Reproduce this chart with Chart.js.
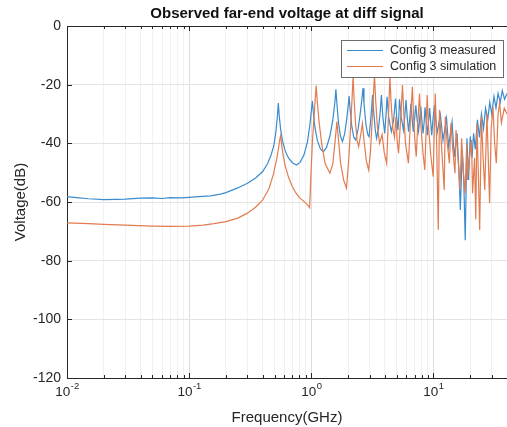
<!DOCTYPE html>
<html>
<head>
<meta charset="utf-8">
<script src="https://cdn.jsdelivr.net/npm/chart.js@4.4.1/dist/chart.umd.min.js"></script>
<style>
  html, body { margin: 0; padding: 0; background: #fff; }
</style>
</head>
<body>
<canvas id="farend" width="507" height="427"></canvas>
<script>
// Config 3 measured (GHz, dB)
const measFreq = [0.01, 0.012, 0.015, 0.02, 0.025, 0.03, 0.04, 0.05, 0.06, 0.07, 0.085, 0.1, 0.12, 0.15, 0.18, 0.2,
  0.25, 0.3, 0.35, 0.4, 0.44, 0.47, 0.495, 0.515, 0.528, 0.537, 0.546, 0.56, 0.58, 0.61, 0.65, 0.7, 0.755, 0.81, 0.87,
  0.93, 0.975, 1.0, 1.02, 1.04, 1.07, 1.12, 1.19, 1.257, 1.33, 1.42, 1.5, 1.56, 1.59, 1.62, 1.67, 1.73, 1.8, 1.88, 1.96,
  2.0, 2.04, 2.08, 2.15, 2.23, 2.31, 2.42, 2.53, 2.6, 2.65, 2.7, 2.8, 2.9, 2.97, 3.05, 3.12, 3.17, 3.24, 3.33, 3.42,
  3.55, 3.66, 3.75, 3.85, 3.99, 4.08, 4.17, 4.3, 4.52, 4.72, 4.89, 5.0, 5.12, 5.2, 5.27, 5.45, 5.68, 5.82, 5.96, 6.1,
  6.26, 6.4, 6.54, 6.7, 6.84, 7.0, 7.17, 7.35, 7.55, 7.7, 7.87, 8.05, 8.22, 8.4, 8.53, 8.75, 8.93, 9.1, 9.31, 9.5,
  9.68, 9.9, 10.2, 10.7, 11.4, 11.97, 12.8, 13.3, 14.2, 14.8, 15.6, 16.1, 16.6, 17.2, 17.7, 18.2, 18.8, 19.4, 20.0,
  20.7, 21.3, 22.0, 22.9, 23.8, 24.7, 25.7, 26.7, 27.8, 28.9, 30.0, 31.3, 32.5, 33.8, 35.2, 36.6, 38.2, 40];
const measDb = [-58.2, -58.5, -58.9, -59.2, -59.1, -59.0, -58.7, -58.6, -58.8, -58.5, -58.6, -58.4, -58.2, -57.9, -57.3, -56.8,
  -55.2, -53.6, -51.8, -49.6, -46.8, -43.8, -40.5, -35.5, -30.5, -26.3, -30.5, -35, -39, -42.5, -45, -46.6, -47.4, -46.5, -44,
  -39.5, -33.5, -29, -25.6, -29.5, -34.5, -39, -42, -42.8, -41.5, -37.5, -32, -26, -21.6, -26.5, -33, -37.5, -39.4, -36.5, -31,
  -27.5, -23.9, -28.5, -34.5, -38, -38.9, -35, -29, -24.5, -21.2, -26.5, -33.5, -37, -37.7, -33, -28, -23.5, -29, -35, -38.3,
  -35, -29.5, -23.5, -31, -36.6, -31, -24.1, -31, -36, -32, -24.7, -31, -35.5, -31, -25, -31, -35.5, -31, -25.2, -31,
  -36, -31.5, -26.4, -32, -36, -32, -27, -32, -35.8, -32, -27.5, -32.5, -36.6, -32.5, -27.7, -33, -37.2, -33, -28, -33,
  -37.2, -32, -27, -36.6, -30.3, -38.9, -31.5, -41.1, -32.6, -44.6, -36.6, -48, -62.7, -42.3, -52.5, -73, -38.3, -52.5, -37.7,
  -45, -36.6, -42, -32, -38, -30, -35, -28, -32, -26, -30, -24, -28, -23, -26, -22, -25, -23];

// Config 3 simulation (GHz, dB)
const simFreq = [0.01, 0.015, 0.02, 0.03, 0.05, 0.07, 0.1, 0.13, 0.16, 0.2, 0.25, 0.3, 0.35, 0.4, 0.45, 0.49, 0.52, 0.54,
  0.553, 0.561, 0.57, 0.585, 0.61, 0.65, 0.7, 0.75, 0.8, 0.87, 0.93, 0.969, 0.99, 1.02, 1.06, 1.096, 1.12, 1.16, 1.22,
  1.3, 1.42, 1.5, 1.56, 1.62, 1.67, 1.74, 1.84, 1.94, 2.03, 2.1, 2.16, 2.2, 2.24, 2.3, 2.37, 2.44, 2.54, 2.62, 2.7, 2.82,
  2.95, 3.05, 3.15, 3.23, 3.29, 3.36, 3.47, 3.62, 3.8, 3.95, 4.14, 4.27, 4.4, 4.5, 4.65, 4.8, 4.92, 5.05, 5.18, 5.38,
  5.58, 5.72, 5.9, 6.24, 6.45, 6.72, 6.88, 7.05, 7.23, 7.45, 7.69, 7.9, 8.2, 8.49, 8.7, 8.88, 9.1, 9.5, 9.95, 10.15,
  10.35, 10.6, 10.95, 11.2, 11.6, 12.25, 12.5, 12.9, 13.5, 13.9, 14.4, 15.0, 15.3, 15.9, 16.5, 17.0, 17.6, 18.2, 18.7,
  19.0, 19.6, 20.5, 20.9, 21.7, 22.2, 22.7, 23.3, 23.9, 24.7, 25.5, 26.3, 27.4, 28.1, 28.8, 29.7, 30.7, 31.7, 32.7,
  33.8, 34.8, 36, 38, 40];
const simDb = [-67.1, -67.4, -67.6, -67.9, -68.2, -68.3, -68.2, -67.9, -67.4, -66.7, -65.5, -63.8, -61.8, -59.3, -55.5, -50.5, -45.5, -41.5,
  -38.5, -37.5, -40, -43.5, -47.5, -51.5, -54.8, -57, -58.5, -59.8, -61, -62, -52, -40, -29, -20.3, -26, -33, -40.5,
  -47, -50.2, -47, -40, -32.6, -39, -47, -52.5, -55.3, -45, -34, -24, -17, -25, -33, -39, -41.1, -37, -33.2, -39, -46,
  -49.1, -43, -32, -23, -16.5, -25, -34, -40, -37, -43, -46.8, -32, -17.3, -26, -35, -38, -31, -39, -43.4, -32,
  -20.1, -30, -40, -46.8, -34, -20.7, -31, -39, -44.5, -33, -23, -34, -43, -49.1, -36, -23.5, -34, -44, -51.4, -36,
  -23, -38, -69.5, -28.6, -40, -55.9, -30.9, -39, -46.8, -33.2, -42, -50.2, -35.5, -45, -55.9, -38.3, -50, -57, -40.1,
  -52.5, -46, -38.9, -57, -45, -66, -33.2, -50, -69.5, -30.9, -45, -55.9, -29.8, -45, -60.4, -35, -27.5, -40, -46.8,
  -30, -26.4, -33, -28, -30];

const seriesNames = ['Config 3 measured', 'Config 3 simulation'];
const seriesColors = ['#3a8cce', '#e37b50'];

// log axis: decades carry the labels, 2..9 are minor
const xDecades = [0.01, 0.1, 1, 10];
const xDecadeExp = ['-2', '-1', '0', '1'];
const xMinorSteps = [2, 3, 4, 5, 6, 7, 8, 9];

const axisColor = '#262626';
const FONT = "'Liberation Sans', Arial, Helvetica, sans-serif";

const toPoints = (xs, ys) => xs.map((f, i) => ({x: f, y: ys[i]}));
const isDecade = v => xDecades.some(d => Math.abs(v / d - 1) < 1e-6);

const gridValues = [];
xDecades.forEach(d => {
  gridValues.push(d);
  xMinorSteps.forEach(m => gridValues.push(+(d * m).toPrecision(3)));
});

// box top, inward ticks, 10^n labels and the legend (MATLAB look)
const frame = {
  id: 'frame',
  afterDraw(chart) {
    const {ctx, chartArea: a, scales: {x, y}} = chart;
    ctx.save();
    ctx.strokeStyle = axisColor;
    ctx.lineWidth = 1;
    ctx.beginPath();
    ctx.moveTo(a.left, a.top + 0.5);
    ctx.lineTo(a.right, a.top + 0.5);
    x.ticks.forEach(t => {
      const px = Math.round(x.getPixelForValue(t.value)) + 0.5;
      const len = isDecade(t.value) ? 5 : 3;
      ctx.moveTo(px, a.bottom);
      ctx.lineTo(px, a.bottom - len);
      ctx.moveTo(px, a.top);
      ctx.lineTo(px, a.top + len);
    });
    y.ticks.forEach(t => {
      const py = Math.round(y.getPixelForValue(t.value)) + 0.5;
      ctx.moveTo(a.left, py);
      ctx.lineTo(a.left + 5, py);
    });
    ctx.stroke();

    ctx.fillStyle = axisColor;
    ctx.textBaseline = 'alphabetic';
    ctx.textAlign = 'left';
    xDecades.forEach((d, i) => {
      const px = x.getPixelForValue(d);
      ctx.font = '13.5px ' + FONT;
      const wBase = ctx.measureText('10').width;
      ctx.font = '9.5px ' + FONT;
      const wExp = ctx.measureText(xDecadeExp[i]).width;
      const x0 = px - (wBase + wExp) / 2;
      ctx.font = '13.5px ' + FONT;
      ctx.fillText('10', x0, 396);
      ctx.font = '9.5px ' + FONT;
      ctx.fillText(xDecadeExp[i], x0 + wBase + 0.5, 389);
    });

    // legend box
    const lx = 341, ly = 40, lw = 162, lh = 37;
    ctx.fillStyle = '#fff';
    ctx.fillRect(lx, ly, lw, lh);
    ctx.strokeStyle = '#6b6b6b';
    ctx.strokeRect(lx + 0.5, ly + 0.5, lw, lh);
    ctx.font = '12.5px ' + FONT;
    ctx.textBaseline = 'middle';
    seriesNames.forEach((name, i) => {
      const yy = ly + 10.5 + i * 16;
      ctx.strokeStyle = seriesColors[i];
      ctx.lineWidth = 1.2;
      ctx.beginPath();
      ctx.moveTo(347, yy);
      ctx.lineTo(383, yy);
      ctx.stroke();
      ctx.fillStyle = axisColor;
      ctx.fillText(name, 390, yy);
    });
    ctx.restore();
  }
};

new Chart(document.getElementById('farend'), {
  type: 'line',
  data: {
    datasets: [
      {
        label: seriesNames[0],
        data: toPoints(measFreq, measDb),
        borderColor: seriesColors[0],
        borderWidth: 1.2,
        pointRadius: 0,
        tension: 0,
        order: 2
      },
      {
        label: seriesNames[1],
        data: toPoints(simFreq, simDb),
        borderColor: seriesColors[1],
        borderWidth: 1.2,
        pointRadius: 0,
        tension: 0,
        order: 1
      }
    ]
  },
  options: {
    responsive: false,
    animation: false,
    events: [],
    layout: {padding: {left: 0, right: -5, top: 0, bottom: 0}},
    plugins: {
      legend: {display: false},
      tooltip: {enabled: false},
      title: {
        display: true,
        fullSize: false,
        text: 'Observed far-end voltage at diff signal',
        color: '#111',
        font: {family: FONT, size: 15, weight: 'bold'},
        padding: {top: 5, bottom: 3}
      }
    },
    scales: {
      x: {
        type: 'logarithmic',
        min: 0.01,
        max: 40,
        afterBuildTicks: s => { s.ticks = gridValues.map(v => ({value: v})); },
        afterFit: s => { s.height = 49; },
        ticks: {display: false},
        grid: {
          drawTicks: false,
          color: c => (c.tick && isDecade(c.tick.value)) ? '#dcdcdc' : '#f1f1f1'
        },
        border: {color: axisColor, width: 1},
        title: {
          display: true,
          text: 'Frequency(GHz)',
          color: axisColor,
          font: {family: FONT, size: 15},
          padding: {top: 0, bottom: 0}
        }
      },
      y: {
        min: -120,
        max: 0,
        afterFit: s => { s.width = 67; },
        ticks: {stepSize: 20, color: axisColor, padding: 6, font: {family: FONT, size: 14}},
        grid: {drawTicks: false, color: '#e3e3e3'},
        border: {color: axisColor, width: 1},
        title: {
          display: true,
          text: 'Voltage(dB)',
          color: axisColor,
          font: {family: FONT, size: 15},
          padding: {top: 12, bottom: 0}
        }
      }
    }
  },
  plugins: [frame]
});
</script>
</body>
</html>
